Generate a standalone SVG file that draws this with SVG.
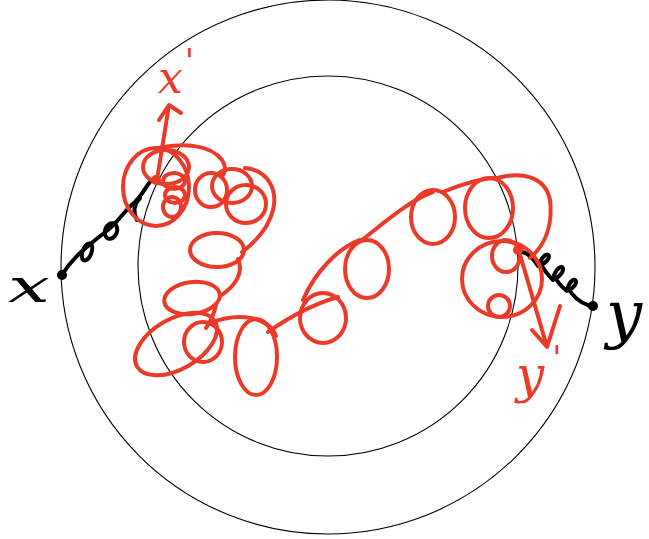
<svg xmlns="http://www.w3.org/2000/svg" width="649" height="539" viewBox="0 0 649 539">
<style>
.ring{fill:none;stroke:#000;stroke-width:1.1}
.red{fill:none;stroke:#ec3a28;stroke-width:4;stroke-linecap:round;stroke-linejoin:round}
.blk{fill:none;stroke:#000;stroke-width:4;stroke-linecap:round;stroke-linejoin:round}
.lblk{font-family:"DejaVu Serif",serif;font-style:italic;fill:#000}
.lred{font-family:"DejaVu Serif",serif;font-style:italic;fill:#ec3a28}
</style>
<rect width="649" height="539" fill="#fff"/>
<g id="rings">
<circle class="ring" cx="328" cy="267" r="267"/>
<circle class="ring" cx="328" cy="266" r="190"/>
</g>
<g id="black-paths">
<path class="blk" d="M62,275 C70,262 78,254 88,246 C95,240 100,236 108,230 C118,222 125,210 135,202 C142,195 145,188 150,182"/>
<ellipse class="blk" cx="87" cy="252" rx="4.5" ry="9" transform="rotate(20 87 252)"/>
<ellipse class="blk" cx="111" cy="231" rx="6" ry="8" transform="rotate(20 111 231)"/>
<path class="blk" d="M140,198 C133,205 133,212 137,220"/>
<path class="blk" d="M522,252 C528,253 533,258 538,266 C556,260 548,246 540,262 C544,272 550,276 553,280 C570,272 562,258 554,275 C558,284 563,288 567,291 C583,284 574,272 568,287 C572,296 578,302 590,306"/>
<circle cx="62" cy="275" r="5" fill="#000"/>
<circle cx="593" cy="306" r="5" fill="#000"/>
</g>
<g id="red-paths">
<ellipse class="red" cx="156" cy="187" rx="33" ry="39"/>
<ellipse class="red" cx="166" cy="167" rx="23" ry="17"/>
<ellipse class="red" cx="174" cy="181" rx="11" ry="8"/>
<ellipse class="red" cx="175" cy="195" rx="10" ry="8"/>
<ellipse class="red" cx="172" cy="207" rx="9" ry="10"/>
<path class="red" d="M158,148 C182,143 210,144 222,160 C226,166 226,172 222,176"/>
<ellipse class="red" cx="211" cy="190" rx="16" ry="17"/>
<ellipse class="red" cx="232" cy="186" rx="20" ry="17"/>
<ellipse class="red" cx="246" cy="204" rx="20" ry="19"/>
<path class="red" d="M245,168 C268,170 278,190 273,210 C268,230 254,243 242,252"/>
<ellipse class="red" cx="217" cy="250" rx="27" ry="17"/>
<path class="red" d="M238,259 C244,272 236,286 220,296"/>
<ellipse class="red" cx="192" cy="298" rx="28" ry="16" transform="rotate(-8 192 298)"/>
<path class="red" d="M216,305 C214,314 212,320 206,328"/>
<ellipse class="red" cx="203" cy="342" rx="19" ry="20"/>
<ellipse class="red" cx="176" cy="344" rx="45" ry="25" transform="rotate(-30 176 344)"/>
<path class="red" d="M210,323 C238,312 268,316 276,336"/>
<ellipse class="red" cx="256" cy="357" rx="21" ry="38"/>
<path class="red" d="M268,332 C288,318 310,305 338,297"/>
<ellipse class="red" cx="323" cy="318" rx="23" ry="25"/>
<path class="red" d="M303,300 C315,272 338,248 360,240"/>
<ellipse class="red" cx="367" cy="269" rx="22" ry="29"/>
<path class="red" d="M362,240 C385,222 410,200 433,192"/>
<ellipse class="red" cx="433" cy="217" rx="22" ry="27"/>
<path class="red" d="M443,192 C460,185 480,178 497,178"/>
<ellipse class="red" cx="489" cy="208" rx="24" ry="30"/>
<path class="red" d="M497,178 C520,172 545,175 550,200 C553,225 545,245 530,258"/>
<ellipse class="red" cx="502" cy="279" rx="40" ry="38"/>
<ellipse class="red" cx="506" cy="256" rx="14" ry="16"/>
<ellipse class="red" cx="499" cy="306" rx="11" ry="11"/>
<circle cx="156" cy="180" r="5" fill="#ec3a28"/>
<circle cx="518" cy="250" r="5" fill="#ec3a28"/>
<path class="red" d="M157,180 L169,105 M159,120 L169,105 L181,113"/>
<path class="red" d="M519,251 L547,347 M532,330 L547,347 L560,306"/>
</g>
<g id="labels">
<text class="lblk" x="8" y="302" font-size="46" textLength="42" lengthAdjust="spacingAndGlyphs">x</text>
<text class="lblk" x="606" y="336" font-size="64">y</text>
<text class="lred" x="158" y="93" font-size="44">x<tspan dx="2" dy="-20" font-size="34">'</tspan></text>
<text class="lred" x="516" y="392" font-size="50">y<tspan dx="8" dy="-22" font-size="34">'</tspan></text>
</g>
</svg>
